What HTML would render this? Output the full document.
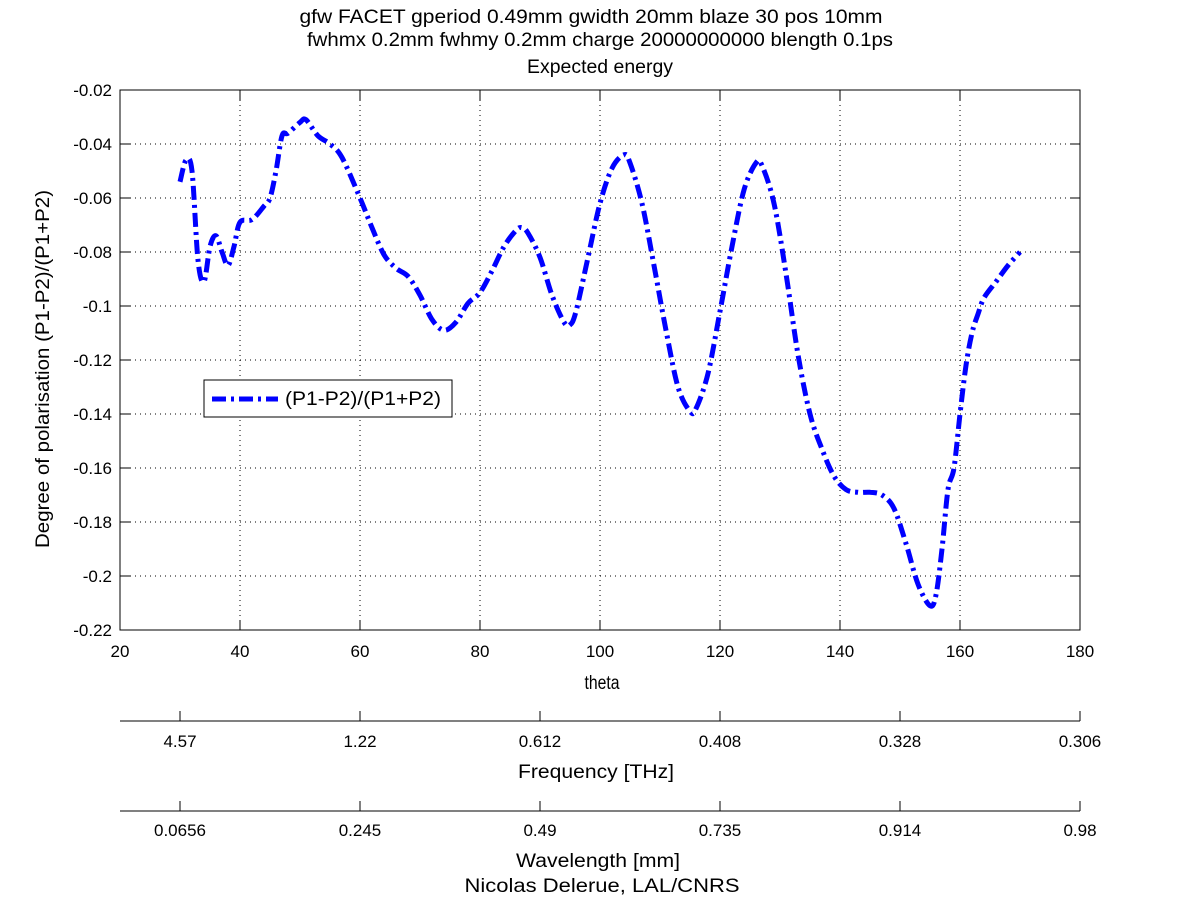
<!DOCTYPE html>
<html><head><meta charset="utf-8"><style>
body{margin:0;background:#fff;}
svg text{font-family:"Liberation Sans",sans-serif;fill:#000;}
</style></head><body>
<svg width="1200" height="901" viewBox="0 0 1200 901">
<rect width="1200" height="901" fill="#fff"/>
<g font-size="19" text-anchor="middle">
<text x="591" y="23" textLength="583" lengthAdjust="spacingAndGlyphs">gfw FACET gperiod 0.49mm gwidth 20mm blaze 30 pos 10mm</text>
<text x="600" y="46" textLength="586" lengthAdjust="spacingAndGlyphs">fwhmx 0.2mm fwhmy 0.2mm charge 20000000000 blength 0.1ps</text>
<text x="600" y="73" textLength="146" lengthAdjust="spacingAndGlyphs">Expected energy</text>
</g>
<g id="grid"></g>
<rect x="120" y="90" width="960" height="540" fill="none" stroke="#000" stroke-width="1"/>
<g id="ticks"></g>
<path id="series" fill="none" stroke="#0000ff" stroke-width="5" stroke-dasharray="14,5,3,5" stroke-linejoin="round"/>
<text x="0" y="0" font-size="19" text-anchor="middle" transform="translate(49,369) rotate(-90)" textLength="358" lengthAdjust="spacingAndGlyphs">Degree of polarisation (P1-P2)/(P1+P2)</text>
<text x="602" y="689" font-size="19" text-anchor="middle" textLength="35" lengthAdjust="spacingAndGlyphs">theta</text>
<text x="596" y="778" font-size="19" text-anchor="middle" textLength="156" lengthAdjust="spacingAndGlyphs">Frequency [THz]</text>
<text x="598" y="867" font-size="19" text-anchor="middle" textLength="164" lengthAdjust="spacingAndGlyphs">Wavelength [mm]</text>
<text x="602" y="892" font-size="19" text-anchor="middle" textLength="275" lengthAdjust="spacingAndGlyphs">Nicolas Delerue, LAL/CNRS</text>
<g>
<rect x="204" y="380" width="248" height="37" fill="#fff" stroke="#000" stroke-width="1"/>
<line x1="212" y1="399" x2="278" y2="399" stroke="#0000ff" stroke-width="5" stroke-dasharray="14,5,3,5"/>
<text x="285" y="405" font-size="19" textLength="156" lengthAdjust="spacingAndGlyphs">(P1-P2)/(P1+P2)</text>
</g>
</svg>
<script>
const thetaVals=[30,31,32,33,34,35,36,37,38,39,40,42,44,45,46,47,48,50,51,53,55,57,60,62,64,66,68,70,72,74,76,78,80,82,84,86,87,88,90,92,94,95,96,98,100,102,104,105,107,109,111,113,115,116,118,120,122,124,126,127,129,131,133,135,137,139,141,143,145,147,149,151,153,155,156,157,158,159,160,161,162,163,164,166,168,170];
const polVals=[-0.054,-0.046,-0.05,-0.083,-0.091,-0.078,-0.074,-0.08,-0.085,-0.078,-0.069,-0.068,-0.063,-0.06,-0.05,-0.037,-0.036,-0.032,-0.031,-0.037,-0.04,-0.045,-0.06,-0.071,-0.081,-0.086,-0.089,-0.096,-0.105,-0.109,-0.106,-0.099,-0.095,-0.087,-0.078,-0.072,-0.071,-0.073,-0.082,-0.096,-0.106,-0.107,-0.102,-0.082,-0.062,-0.049,-0.044,-0.047,-0.062,-0.085,-0.109,-0.13,-0.139,-0.138,-0.125,-0.102,-0.078,-0.057,-0.047,-0.048,-0.062,-0.088,-0.118,-0.14,-0.153,-0.163,-0.168,-0.169,-0.169,-0.17,-0.175,-0.188,-0.203,-0.211,-0.207,-0.19,-0.168,-0.16,-0.14,-0.122,-0.11,-0.103,-0.097,-0.091,-0.085,-0.08];
const xTicks=[20,40,60,80,100,120,140,160,180];
const yTicks=[-0.02,-0.04,-0.06,-0.08,-0.1,-0.12,-0.14,-0.16,-0.18,-0.2,-0.22];
const yTickLabels=["-0.02","-0.04","-0.06","-0.08","-0.1","-0.12","-0.14","-0.16","-0.18","-0.2","-0.22"];
const secTicks=[30,60,90,120,150,180];
const freqLabels=["4.57","1.22","0.612","0.408","0.328","0.306"];
const waveLabels=["0.0656","0.245","0.49","0.735","0.914","0.98"];
const NS="http://www.w3.org/2000/svg";
const X=t=>120+(t-20)*6;
const Y=v=>90+(-0.02-v)*2700;
const grid=document.getElementById('grid'),ticks=document.getElementById('ticks');
function mk(tag,attrs,parent){const e=document.createElementNS(NS,tag);for(const k in attrs)e.setAttribute(k,attrs[k]);parent.appendChild(e);return e;}
xTicks.forEach(t=>{
 const g=mk('line',{x1:X(t),x2:X(t),y1:90,y2:630,stroke:'#000','stroke-dasharray':'1,4','stroke-width':1},grid);
 
 
 mk('line',{x1:X(t),x2:X(t),y1:630,y2:620,stroke:'#000'},ticks);
 mk('line',{x1:X(t),x2:X(t),y1:90,y2:100,stroke:'#000'},ticks);
 const l=mk('text',{x:X(t),y:657,'font-size':17,'text-anchor':'middle'},ticks);
 l.textContent=t;
 
 
});
yTicks.forEach((v,i)=>{
 const g=mk('line',{x1:120,x2:1080,y1:Y(v),y2:Y(v),stroke:'#000','stroke-dasharray':'1,4','stroke-width':1},grid);
 
 
 mk('line',{x1:120,x2:130,y1:Y(v),y2:Y(v),stroke:'#000'},ticks);
 mk('line',{x1:1070,x2:1080,y1:Y(v),y2:Y(v),stroke:'#000'},ticks);
 const l=mk('text',{x:112,y:Y(v)+6,'font-size':17,'text-anchor':'end'},ticks);
 l.textContent=yTickLabels[i];
 
 
});
[[721,freqLabels,747,'frequency'],[811,waveLabels,836,'wavelength']].forEach(([ay,labs,ly,nm])=>{
 const a=mk('line',{x1:120,x2:1080,y1:ay,y2:ay,stroke:'#000'},ticks);
 
 
 secTicks.forEach((t,i)=>{
  mk('line',{x1:X(t),x2:X(t),y1:ay,y2:ay-10,stroke:'#000'},ticks);
  const l=mk('text',{x:X(t),y:ly,'font-size':17,'text-anchor':'middle'},ticks);
  l.textContent=labs[i];
  
  
 });
});
const P=thetaVals.map((t,i)=>[X(t),Y(polVals[i])]);
let d='M'+P[0][0].toFixed(1)+','+P[0][1].toFixed(1);
for(let i=0;i<P.length-1;i++){
 const p0=P[Math.max(0,i-1)],p1=P[i],p2=P[i+1],p3=P[Math.min(P.length-1,i+2)];
 const c1=[p1[0]+(p2[0]-p0[0])/6,p1[1]+(p2[1]-p0[1])/6];
 const c2=[p2[0]-(p3[0]-p1[0])/6,p2[1]-(p3[1]-p1[1])/6];
 d+='C'+c1.map(n=>n.toFixed(1)).join(',')+' '+c2.map(n=>n.toFixed(1)).join(',')+' '+p2.map(n=>n.toFixed(1)).join(',');
}
document.getElementById('series').setAttribute('d',d);
</script>
</body></html>
